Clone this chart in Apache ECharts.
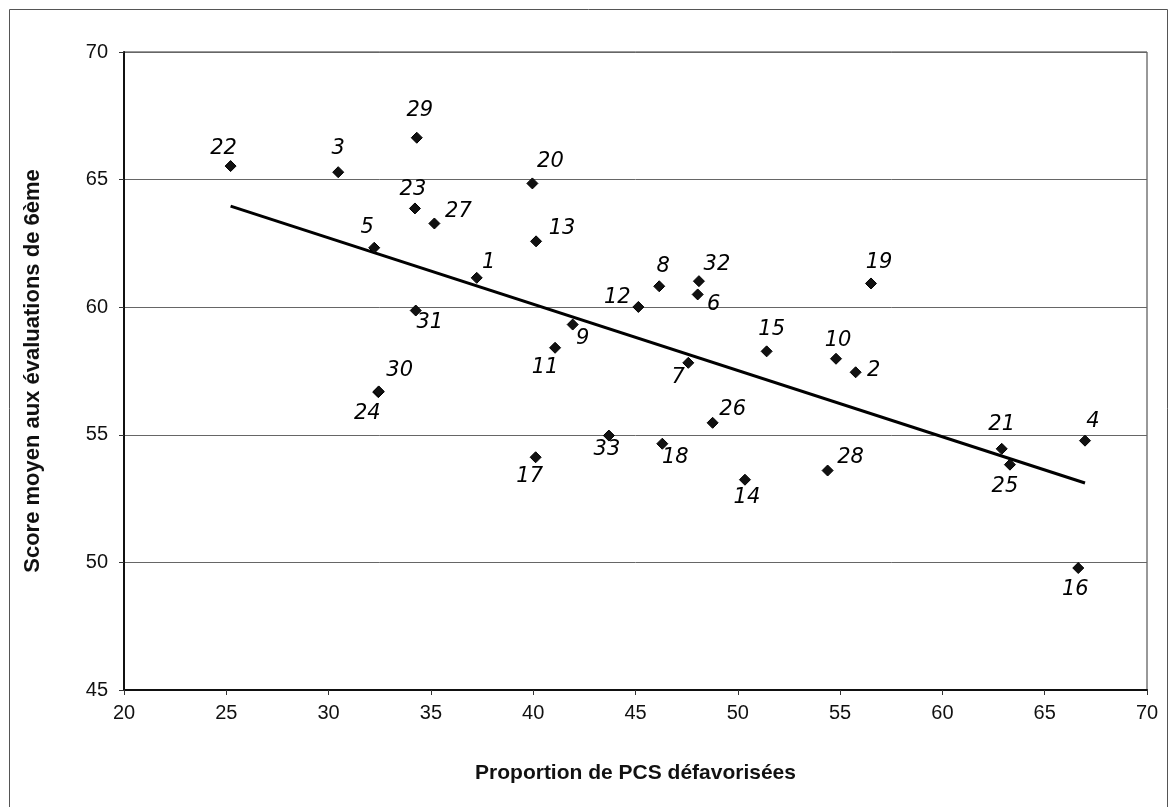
<!DOCTYPE html>
<html>
<head>
<meta charset="utf-8">
<script src="https://cdn.jsdelivr.net/npm/echarts@6/dist/echarts.min.js"></script>
<style>
html,body{margin:0;padding:0;background:#fff;}
#chart{width:1170px;height:807px;}
</style>
</head>
<body>
<div id="chart"></div>
<script>
// ---- data ----
const pointIds = ['1','2','3','4','5','6','7','8','9','10','11','12','13','14','15','16','17','18','19','20','21','22','23','24','25','26','27','28','29','30','31','32','33'];
const pcsValues = [37.24,55.76,30.47,66.97,32.23,48.04,47.58,46.16,41.93,54.80,41.07,45.14,40.14,50.35,51.41,66.64,40.12,46.31,56.51,39.96,62.90,25.21,34.22,32.43,63.30,48.77,35.17,54.39,34.31,32.45,34.26,48.10,43.70];
const scoreValues = [61.15,57.45,65.29,54.77,62.33,60.50,57.82,60.82,59.32,57.98,58.41,60.01,62.58,53.24,58.27,49.78,54.12,54.65,60.93,64.85,54.45,65.53,63.87,56.67,53.83,55.47,63.28,53.60,66.64,56.70,59.87,61.02,54.97];
const trendX = [25.21, 66.97];
const trendY = [63.96, 53.11];
const xTicks = [20,25,30,35,40,45,50,55,60,65,70];
const yTicks = [45,50,55,60,65,70];

// ---- label placement (style, px offsets from marker) ----
const labelOffsets = {
  '1':[12,-15],'2':[18,-2],'3':[0,-24],'4':[8,-19],'5':[-7,-20],'6':[16,10],'7':[-10,15],
  '8':[4,-20],'9':[10,14],'10':[2,-18],'11':[-10,20],'12':[-21,-9],'13':[26,-13],'14':[2,18],
  '15':[5,-22],'16':[-3,22],'17':[-6,19],'18':[13,14],'19':[8,-21],'20':[18,-22],'21':[0,-24],
  '22':[-7,-18],'23':[-2,-19],'24':[-11,21],'25':[-5,22],'26':[20,-13],'27':[24,-12],'28':[23,-13],
  '29':[3,-27],'30':[21,-21],'31':[14,12],'32':[18,-17],'33':[-2,14]
};

const scatterData = pointIds.map((id, i) => ({
  value: [pcsValues[i], scoreValues[i]],
  name: id,
  label: {
    show: true,
    formatter: id,
    position: 'inside',
    align: 'center',
    verticalAlign: 'middle',
    offset: labelOffsets[id] || [0, -18],
    color: '#000',
    fontSize: 21,
    fontStyle: 'italic',
    fontFamily: 'DejaVu Sans',
    opacity: 1
  }
}));

const chart = echarts.init(document.getElementById('chart'), null, {renderer: 'canvas'});
chart.setOption({
  animation: false,
  backgroundColor: '#fff',
  graphic: [{
    type: 'rect',
    shape: {x: 9.5, y: 9.5, width: 1158, height: 812},
    style: {fill: 'none', stroke: '#555', lineWidth: 1},
    silent: true, z: -1
  }],
  grid: {
    left: 124, right: 23, top: 52, bottom: 117,
    show: true, borderColor: '#333', borderWidth: 1, backgroundColor: 'transparent'
  },
  xAxis: {
    type: 'value', min: xTicks[0], max: xTicks[xTicks.length-1], interval: 5,
    name: 'Proportion de PCS défavorisées',
    nameLocation: 'middle', nameGap: 73,
    nameTextStyle: {fontFamily: 'Liberation Sans', fontWeight: 'bold', fontSize: 21, color: '#111'},
    axisLine: {show: true, lineStyle: {color: '#111', width: 2}},
    axisTick: {show: true, length: 5, inside: false, lineStyle: {color: '#333'}},
    axisLabel: {fontFamily: 'Liberation Sans', fontSize: 20, color: '#111', margin: 13},
    splitLine: {show: false}
  },
  yAxis: {
    type: 'value', min: yTicks[0], max: yTicks[yTicks.length-1], interval: 5,
    name: 'Score moyen aux évaluations de 6ème',
    nameLocation: 'middle', nameGap: 80, nameRotate: 90,
    nameTextStyle: {fontFamily: 'Liberation Sans', fontWeight: 'bold', fontSize: 22, color: '#111'},
    axisLine: {show: true, lineStyle: {color: '#111', width: 2}},
    axisTick: {show: true, length: 5, lineStyle: {color: '#333'}},
    axisLabel: {fontFamily: 'Liberation Sans', fontSize: 20, color: '#111', margin: 16},
    splitLine: {show: true, lineStyle: {color: '#666', width: 1}}
  },
  series: [
    {
      type: 'line',
      data: trendX.map((x, i) => [x, trendY[i]]),
      symbol: 'none',
      lineStyle: {color: '#000', width: 3},
      z: 2, silent: true
    },
    {
      type: 'scatter',
      data: scatterData,
      symbol: 'diamond',
      symbolSize: 11,
      itemStyle: {color: '#111', borderColor: '#000', borderWidth: 1, opacity: 1},
      z: 3
    }
  ]
});
</script>
</body>
</html>
